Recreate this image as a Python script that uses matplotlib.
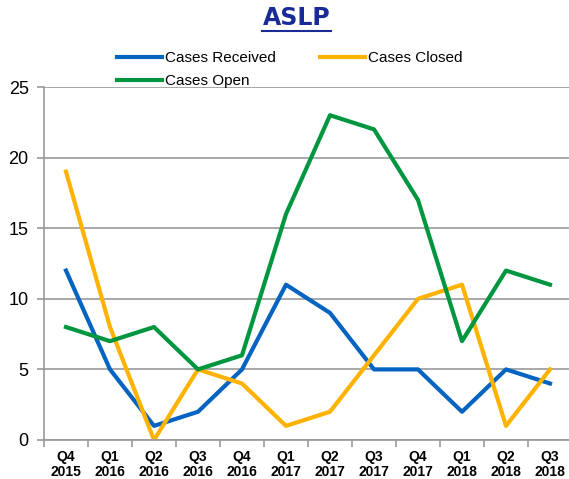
import matplotlib
matplotlib.use("Agg")
import matplotlib.pyplot as plt
from matplotlib.lines import Line2D

quarters = ["Q4\n2015", "Q1\n2016", "Q2\n2016", "Q3\n2016", "Q4\n2016", "Q1\n2017",
            "Q2\n2017", "Q3\n2017", "Q4\n2017", "Q1\n2018", "Q2\n2018", "Q3\n2018"]
received = [12, 5, 1, 2, 5, 11, 9, 5, 5, 2, 5, 4]
closed = [19, 8, 0, 5, 4, 1, 2, 6, 10, 11, 1, 5]
open_cases = [8, 7, 8, 5, 6, 16, 23, 22, 17, 7, 12, 11]

W, H = 569, 479
fig = plt.figure(figsize=(W / 100, H / 100), dpi=100)
plt.rcParams['font.family'] = ['Liberation Sans', 'DejaVu Sans']

# plot area in pixels: left 44, right 572 (runs past the edge), y0=440, y25=87
ax = fig.add_axes([44 / W, (H - 440) / H, 528 / W, (440 - 87) / H])

x = list(range(len(quarters)))
l_rec, = ax.plot(x, received, color='#0563C1', lw=3.0, label='Cases Received')
l_clo, = ax.plot(x, closed, color='#FFB300', lw=3.0, label='Cases Closed')
l_open, = ax.plot(x, open_cases, color='#00963F', lw=3.0, label='Cases Open')

ax.set_xlim(-0.5, 11.5)
ax.set_ylim(0, 25)
ax.set_yticks([0, 5, 10, 15, 20, 25])
ax.yaxis.grid(True, color='#9a9a9a', lw=1.2)
ax.set_axisbelow(True)

ax.set_xticks([i - 0.5 for i in range(13)])
ax.set_xticklabels([])
ax.set_xticks(x, minor=True)
ax.set_xticklabels(quarters, minor=True, fontsize=10, fontweight='bold', linespacing=1.15)
ax.tick_params(axis='x', which='minor', length=0, pad=7)
ax.tick_params(axis='x', which='major', length=5, color='#9a9a9a', width=1.2)
ax.tick_params(axis='y', length=5, color='#9a9a9a', width=1.2, labelsize=13, pad=6)

for side in ['top', 'right']:
    ax.spines[side].set_visible(False)
for side in ['left', 'bottom']:
    ax.spines[side].set_color('#9a9a9a')
    ax.spines[side].set_linewidth(1.2)

# title with underline
fig.text(297 / W, 1 - 18 / H, 'ASLP', ha='center', va='center', fontsize=17,
         fontweight='bold', color='#1A2A96', family=['DejaVu Sans'])
fig.add_artist(Line2D([262 / W, 331 / W], [1 - 31 / H, 1 - 31 / H], color='#1A2A96',
                      lw=1.5, transform=fig.transFigure))

# legend filled column-wise, so order gives rows: Received/Closed, Open
ax.legend([l_rec, l_open, l_clo], ['Cases Received', 'Cases Open', 'Cases Closed'],
          loc='upper left', bbox_to_anchor=(117 / W, 1 - 51 / H),
          bbox_transform=fig.transFigure, ncol=2, frameon=False, fontsize=11,
          borderpad=0, handlelength=2.95, handletextpad=0.2, columnspacing=2.9,
          labelspacing=0.62, borderaxespad=0)

fig.savefig('out.png', dpi=100)
